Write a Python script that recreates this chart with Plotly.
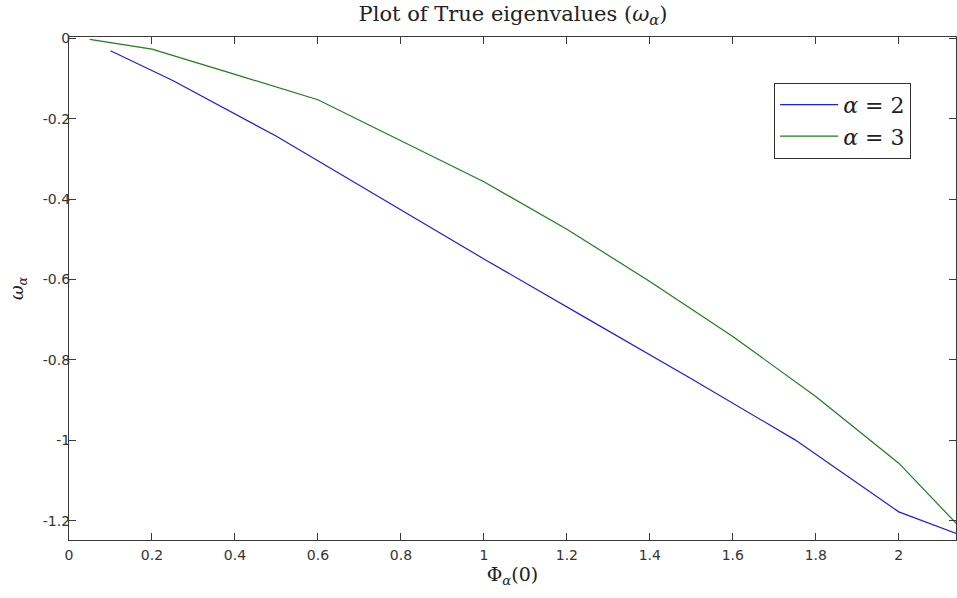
import plotly.graph_objects as go

# data
x_a2 = [0.1, 0.25, 0.5, 0.75, 1.0, 1.25, 1.5, 1.75, 2.0, 2.15]
y_a2 = [-0.031, -0.105, -0.244, -0.396, -0.549, -0.698, -0.847, -0.999, -1.178, -1.236]

x_a3 = [0.05, 0.2, 0.4, 0.6, 0.8, 1.0, 1.2, 1.4, 1.6, 1.8, 2.0, 2.15]
y_a3 = [-0.003, -0.027, -0.09, -0.153, -0.255, -0.357, -0.475, -0.605, -0.742, -0.891, -1.057, -1.219]

x_ticks = [0, 0.2, 0.4, 0.6, 0.8, 1.0, 1.2, 1.4, 1.6, 1.8, 2.0]
x_ticklabels = ["0", "0.2", "0.4", "0.6", "0.8", "1", "1.2", "1.4", "1.6", "1.8", "2"]
y_ticks = [0, -0.2, -0.4, -0.6, -0.8, -1.0, -1.2]
y_ticklabels = ["0", "-0.2", "-0.4", "-0.6", "-0.8", "-1", "-1.2"]

serif = "DejaVu Serif, Liberation Serif, serif"
sans = "DejaVu Sans, Liberation Sans, sans-serif"

fig = go.Figure()
fig.add_trace(go.Scatter(x=x_a2, y=y_a2, mode="lines", name="<i>α</i> = 2",
                         line=dict(color="#1f1fd6", width=1.2)))
fig.add_trace(go.Scatter(x=x_a3, y=y_a3, mode="lines", name="<i>α</i> = 3",
                         line=dict(color="#1e7d1e", width=1.2)))

axis_common = dict(showgrid=False, zeroline=False, showline=True, linecolor="#3a3a3a",
                   linewidth=1.2, mirror="ticks", ticks="inside", ticklen=7,
                   tickcolor="#3a3a3a", tickwidth=1.2,
                   tickfont=dict(family=sans, size=14, color="#333333"))

fig.update_xaxes(range=[0, 2.138], tickvals=x_ticks, ticktext=x_ticklabels,
                 ticklabelstandoff=2,
                 title=dict(text="Φ<sub><i>α</i></sub>(0)", font=dict(family=serif, size=19, color="#222222"),
                            standoff=4),
                 **axis_common)
fig.update_yaxes(range=[-1.248, 0.003], tickvals=y_ticks, ticktext=y_ticklabels,
                 ticklabelstandoff=-5,
                 title=dict(text="<i>ω</i><sub><i>α</i></sub>", font=dict(family=serif, size=18, color="#222222"),
                            standoff=14),
                 **axis_common)

fig.update_layout(
    width=957, height=598,
    margin=dict(l=69, r=1, t=37, b=58),
    paper_bgcolor="white", plot_bgcolor="white",
    title=dict(text="Plot of True eigenvalues (<i>ω</i><sub><i>α</i></sub>)",
               x=(69 + 957) / 2 / 957, xanchor="center", y=0.99, yanchor="top",
               font=dict(family=serif, size=21, color="#222222")),
    legend=dict(x=0.795, y=0.909, xanchor="left", yanchor="top",
                bordercolor="#333333", borderwidth=1, bgcolor="white",
                font=dict(family=serif, size=22, color="#222222"),
                itemwidth=58),
    showlegend=True,
)

fig.write_html("out.html")
